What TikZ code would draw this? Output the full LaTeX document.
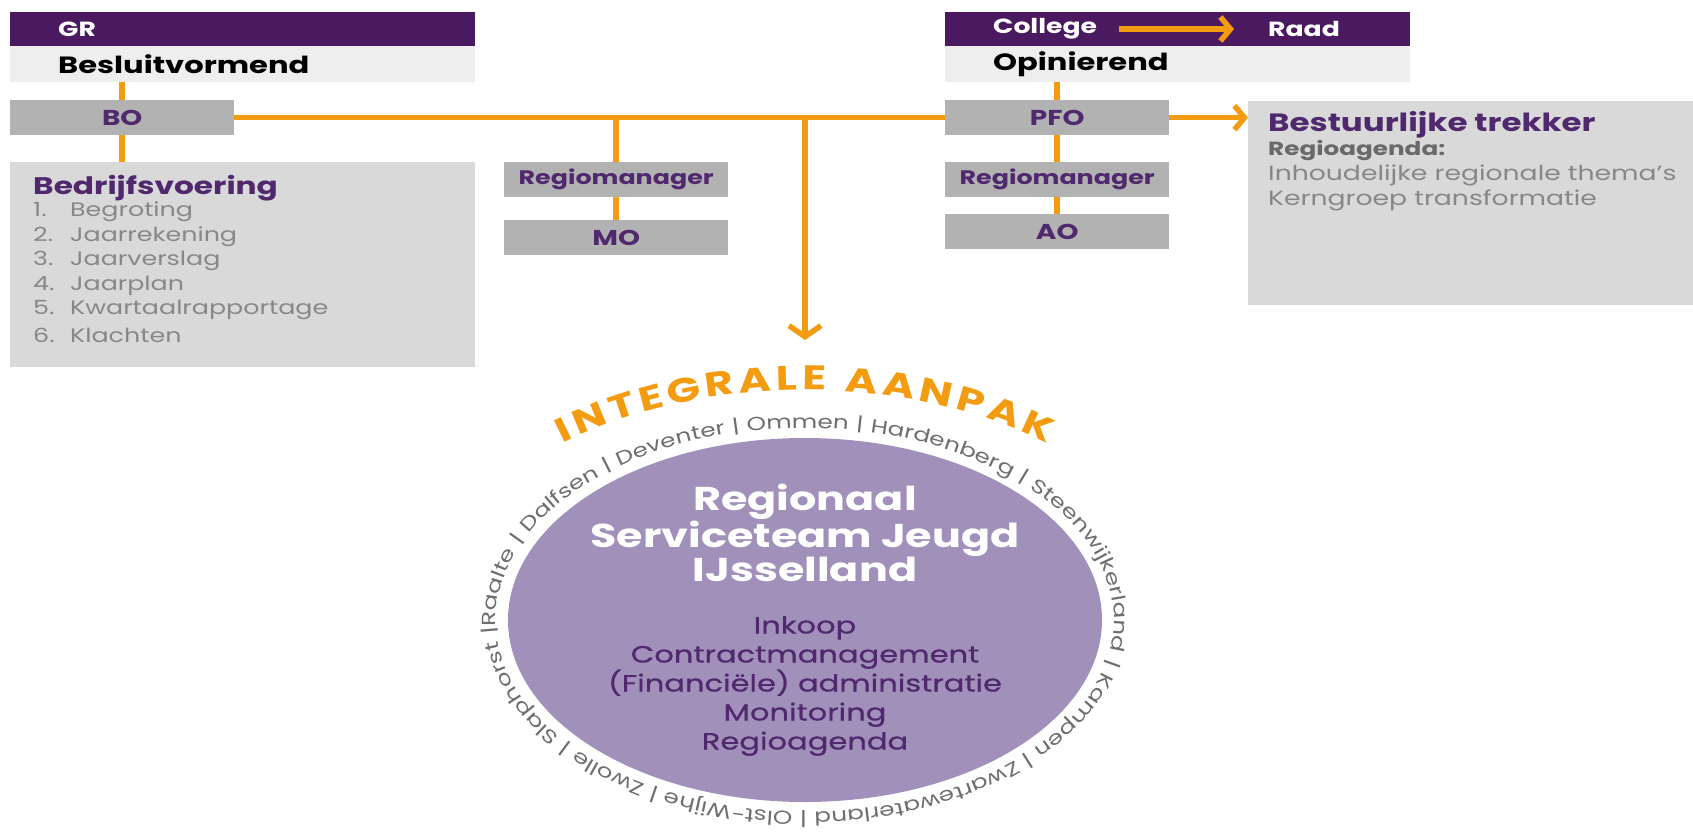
\documentclass[tikz,border=0pt]{standalone}
\usepackage{fontspec}
\setmainfont{Poppins}[FakeStretch=1.3]
\newfontfamily\middelfont{Poppins}[FakeStretch=1.3,FakeBold=0.7]
\usepackage{tikz}
\usetikzlibrary{arrows.meta}
\usetikzlibrary{shapes.geometric}
\usetikzlibrary{decorations.text}
\definecolor{balkpaars}{RGB}{75,25,95}
\definecolor{bandgrijs}{RGB}{238,238,238}
\definecolor{vakgrijs}{RGB}{178,178,178}
\definecolor{blokgrijs}{RGB}{217,217,217}
\definecolor{oranje}{RGB}{243,156,18}
\definecolor{tekstpaars}{RGB}{80,40,110}
\definecolor{lijstgrijs}{RGB}{135,135,135}
\definecolor{donkergrijs}{RGB}{105,105,105}
\definecolor{cirkelpaars}{RGB}{161,144,186}
\definecolor{ringgrijs}{RGB}{110,110,110}
\tikzstyle{balk}=[fill=balkpaars, text=white, font=\bfseries\fontsize{20.5}{24}\selectfont, minimum width=465pt, minimum height=34pt, inner xsep=48pt, inner ysep=0pt, text width=369pt, align=left]
\tikzstyle{balktekst}=[text=white, font=\bfseries\fontsize{20.5}{24}\selectfont, inner sep=0pt]
\tikzstyle{band}=[fill=bandgrijs, text=black, font=\bfseries\fontsize{23.5}{27}\selectfont, minimum width=465pt, minimum height=36pt, inner xsep=48pt, inner ysep=0pt, text width=369pt, align=left]
\tikzstyle{vak}=[fill=vakgrijs, text=tekstpaars, font=\bfseries\fontsize{21.5}{25}\selectfont, minimum width=224pt, minimum height=35pt, inner sep=0pt]
\tikzstyle{vakklein}=[vak, font=\bfseries\fontsize{19.5}{23}\selectfont]
\tikzstyle{blok}=[fill=blokgrijs, minimum width=465pt, inner sep=0pt]
\tikzstyle{kop}=[text=tekstpaars, font=\bfseries\fontsize{24}{28}\selectfont, inner sep=0pt, anchor=west]
\tikzstyle{lijst}=[text=lijstgrijs, font=\fontsize{19.5}{23}\selectfont, inner sep=0pt, anchor=west]
\tikzstyle{lijn}=[draw=oranje, line width=5.5pt]
\tikzstyle{pijl}=[lijn, -{Straight Barb[length=10pt,width=24pt]}]
\tikzstyle{pijlgroot}=[lijn, -{Straight Barb[length=11pt,width=32pt]}]

\begin{document}
\begin{tikzpicture}[x=1pt,y=-1pt]
        \useasboundingbox (0,0) rectangle (1693,832);
        %GR
        \node[balk, anchor=north west] (gr) at (10,12) {GR};
        \node[band, anchor=north west] (besluit) at (10,46) {Besluitvormend};
        \node[vak, anchor=north west] (bo) at (10,100) {BO};
        %bedrijfsvoering
        \node[blok, minimum height=205pt, anchor=north west] (bedrijf) at (10,162) {};
        \node[kop] (bedrijfkop) at (33,188) {Bedrijfsvoering};
        \node[lijst] (b1) at (33,212) {\makebox[37pt][l]{1.}Begroting};
        \node[lijst] (b2) at (33,237) {\makebox[37pt][l]{2.}Jaarrekening};
        \node[lijst] (b3) at (33,261) {\makebox[37pt][l]{3.}Jaarverslag};
        \node[lijst] (b4) at (33,286) {\makebox[37pt][l]{4.}Jaarplan};
        \node[lijst] (b5) at (33,310) {\makebox[37pt][l]{5.}Kwartaalrapportage};
        \node[lijst] (b6) at (33,335) {\makebox[37pt][l]{6.}Klachten};
        %midden
        \node[vakklein, anchor=north west] (rmmid) at (504,162) {Regiomanager};
        \node[vak, anchor=north west] (mo) at (504,220) {MO};
        %college
        \node[balk, anchor=north west] (collegebalk) at (945,12) {};
        \node[balktekst, anchor=west] (college) at (993,29) {College};
        \node[balktekst, anchor=west] (raad) at (1268,29) {Raad};
        \draw[pijl, shorten <=22pt, shorten >=34pt] (college.east) -- (college.east -| raad.west);
        \node[band, anchor=north west] (opinie) at (945,46) {Opinierend};
        \node[vak, anchor=north west] (pfo) at (945,100) {PFO};
        \node[vakklein, anchor=north west] (rmpfo) at (945,162) {Regiomanager};
        \node[vak, anchor=north west] (ao) at (945,214) {AO};
        %trekker
        \node[blok, minimum width=445pt, minimum height=204pt, anchor=north west] (trekker) at (1248,101) {};
        \node[kop, font=\bfseries\fontsize{25}{29}\selectfont] (trekkerkop) at (1268,125) {Bestuurlijke trekker};
        \node[text=donkergrijs, font=\bfseries\fontsize{19}{22}\selectfont, inner sep=0pt, anchor=west] (agenda) at (1268,151) {Regioagenda:};
        \node[lijst, font=\fontsize{20.5}{24}\selectfont] (thema) at (1268,175) {Inhoudelijke regionale thema’s};
        \node[lijst, font=\fontsize{20.5}{24}\selectfont] (kern) at (1268,200) {Kerngroep transformatie};
        %lijnen
        \draw[lijn] (bo.north) -- (bo.north |- besluit.south);
        \draw[lijn] (bo.south) -- (bo.south |- bedrijf.north);
        \draw[lijn] (bo.east) -- (pfo.west);
        \draw[lijn] (rmmid.north |- bo.east) -- (rmmid.north);
        \draw[lijn] (rmmid.south) -- (mo.north);
        \draw[lijn] (pfo.north) -- (pfo.north |- opinie.south);
        \draw[lijn] (pfo.south) -- (rmpfo.north);
        \draw[lijn] (rmpfo.south) -- (ao.north);
        \draw[pijl] (pfo.east) -- (pfo.east -| trekker.west);
        %team
        \node[ellipse, fill=cirkelpaars, minimum width=594pt, minimum height=364pt, inner sep=0pt] (team) at (805,620) {};
        \coordinate (pijlpunt) at (805,340);
        \draw[pijlgroot] (pijlpunt |- bo.east) -- (pijlpunt);
        \node[text=white, font=\bfseries\fontsize{33}{32.5}\selectfont, align=center, inner sep=0pt] (titel) at (805,533) {Regionaal\\Serviceteam Jeugd\\IJsselland};
        \node[text=tekstpaars, font=\middelfont\fontsize{23.5}{29}\selectfont, align=center, inner sep=0pt] (taken) at (805,686) {Inkoop\\Contractmanagement\\(Financiële) administratie\\Monitoring\\Regioagenda};
        %ring
        \path[decorate, decoration={text along path, text format delimiters={[}{]}, text align={fit to path},
          text={[\color{oranje}\bfseries\fontsize{34}{38}\selectfont]INTEGRALE AANPAK}}]
          (team.center) ++(130:377pt and 230pt) arc[start angle=130, end angle=50, x radius=377pt, y radius=230pt];
        \path[decorate, decoration={text along path, text format delimiters={[}{]}, text align={fit to path stretching spaces},
          text={[\color{ringgrijs}\fontsize{19}{22}\selectfont]Raalte | Dalfsen | Deventer | Ommen | Hardenberg | Steenwijkerland | Kampen | Zwartewaterland | Olst-Wijhe | Zwolle | Slaphorst |}}]
          (team.center) ++(182:309pt and 192pt) arc[start angle=182, end angle=-178, x radius=309pt, y radius=192pt];
\end{tikzpicture}
\end{document}
